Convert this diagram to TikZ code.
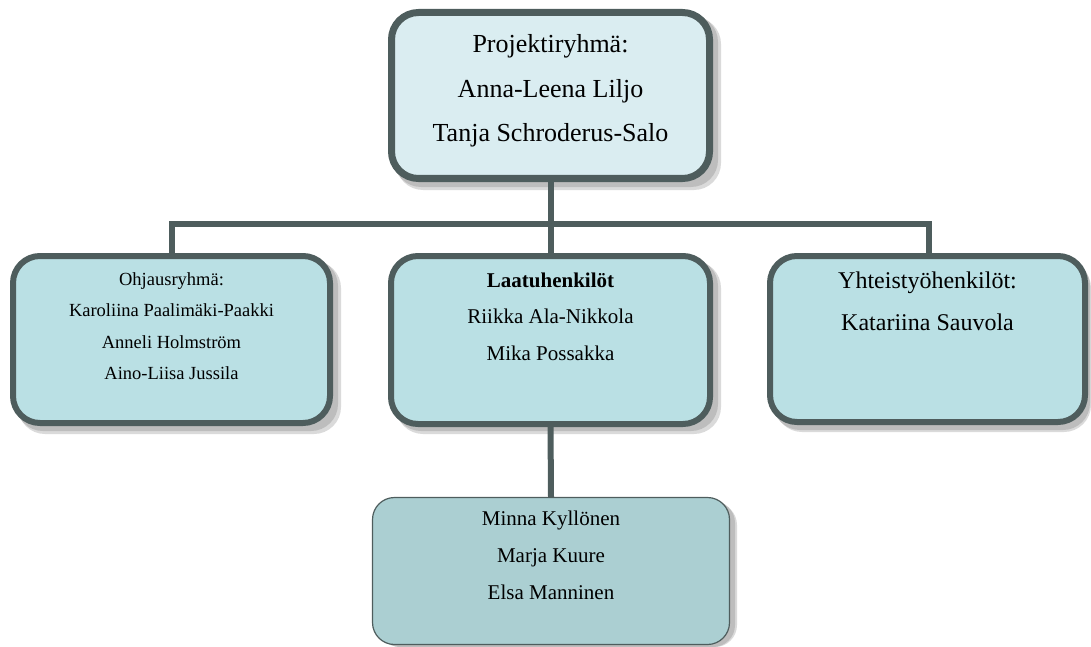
\documentclass[tikz,border=0pt]{standalone}
\usepackage{fontspec}
\setmainfont{Liberation Serif}
\definecolor{bordc}{HTML}{4E5D5D}
\definecolor{topfill}{HTML}{DAEDF1}
\definecolor{midfill}{HTML}{BAE0E4}
\definecolor{botfill}{HTML}{ABCFD2}
\definecolor{shadc}{HTML}{BDBDBD}
\definecolor{shadl}{HTML}{DADADA}
\tikzset{
  x=1pt, y=-1pt,
  boxthick/.style={draw=bordc, rounded corners=27pt, inner sep=0pt, outer sep=0pt},
  shade1/.style={fill=shadl, rounded corners=27pt, draw=none},
  shade2/.style={fill=shadc, rounded corners=27pt, draw=none},
  conn/.style={draw=bordc, line width=6pt, line join=miter},
  txt/.style={anchor=base, inner sep=0pt, text=black},
}
\begin{document}
\begin{tikzpicture}
\useasboundingbox (0,0) rectangle (1091,647);
% shadows
\fill[shade1] (396,17) rectangle (721,190);
\fill[shade2] (394,15) rectangle (718,187);
\fill[shade1] (18,261) rectangle (341,434);
\fill[shade2] (16,259) rectangle (338,431);
\fill[shade1] (396,261) rectangle (721,434);
\fill[shade2] (394,259) rectangle (718,431);
\fill[shade1] (775,261) rectangle (1091,432);
\fill[shade2] (773,259) rectangle (1090,430);
\fill[shade1,rounded corners=22pt] (380,503) rectangle (737,647);
\fill[shade2,rounded corners=22pt] (378,501) rectangle (735,647);
% boxes
\node[boxthick, line width=7pt, fill=topfill, minimum width=318pt, minimum height=166pt] (top) at (550.5,95.5) {};
\node[boxthick, line width=6pt, fill=midfill, minimum width=317pt, minimum height=167pt] (left) at (171.5,339.5) {};
\node[boxthick, line width=6pt, fill=midfill, minimum width=319pt, minimum height=168pt] (mid) at (550.5,340) {};
\node[boxthick, line width=6pt, fill=midfill, minimum width=315pt, minimum height=166pt] (right) at (927.5,339) {};
\node[draw=bordc, line width=1.2pt, rounded corners=22pt, fill=botfill, inner sep=0pt, outer sep=0pt, minimum width=357pt, minimum height=147pt] (bot) at (551,571) {};
% connectors
\coordinate (bus) at (551,224);
\draw[conn] (top.south) -- (mid.north);
\draw[conn] ([xshift=0.5pt]left.north) -- ([xshift=0.5pt]left.north |- bus) -- ([xshift=1.5pt]right.north |- bus) -- ([xshift=1.5pt]right.north);
\draw[conn] (mid.south) -- (bot.north);
% texts
\begin{scope}[font=\fontsize{26}{30}\selectfont]
\node[txt] (t1) at (550.5,53) {Projektiryhmä:};
\node[txt] (t2) at (550.5,97.5) {Anna-Leena Liljo};
\node[txt] (t3) at (550.5,142) {Tanja Schroderus-Salo};
\end{scope}
\begin{scope}[font=\fontsize{18.5}{22}\selectfont]
\node[txt] (l1) at (171.5,285) {Ohjausryhmä:};
\node[txt] (l2) at (171.5,316.5) {Karoliina Paalimäki-Paakki};
\node[txt] (l3) at (171.5,348) {Anneli Holmström};
\node[txt] (l4) at (171.5,379.5) {Aino-Liisa Jussila};
\end{scope}
\begin{scope}[font=\fontsize{21}{25}\selectfont]
\node[txt] (m1) at (550.5,287) {\textbf{Laatuhenkilöt}};
\node[txt] (m2) at (550.5,323.5) {Riikka Ala-Nikkola};
\node[txt] (m3) at (550.5,360) {Mika Possakka};
\node[txt] (b1) at (551,525) {Minna Kyllönen};
\node[txt] (b2) at (551,562) {Marja Kuure};
\node[txt] (b3) at (551,599) {Elsa Manninen};
\end{scope}
\begin{scope}[font=\fontsize{24}{28}\selectfont]
\node[txt] (r1) at (927.5,288) {Yhteistyöhenkilöt:};
\node[txt] (r2) at (927.5,330) {Katariina Sauvola};
\end{scope}
\end{tikzpicture}
\end{document}
